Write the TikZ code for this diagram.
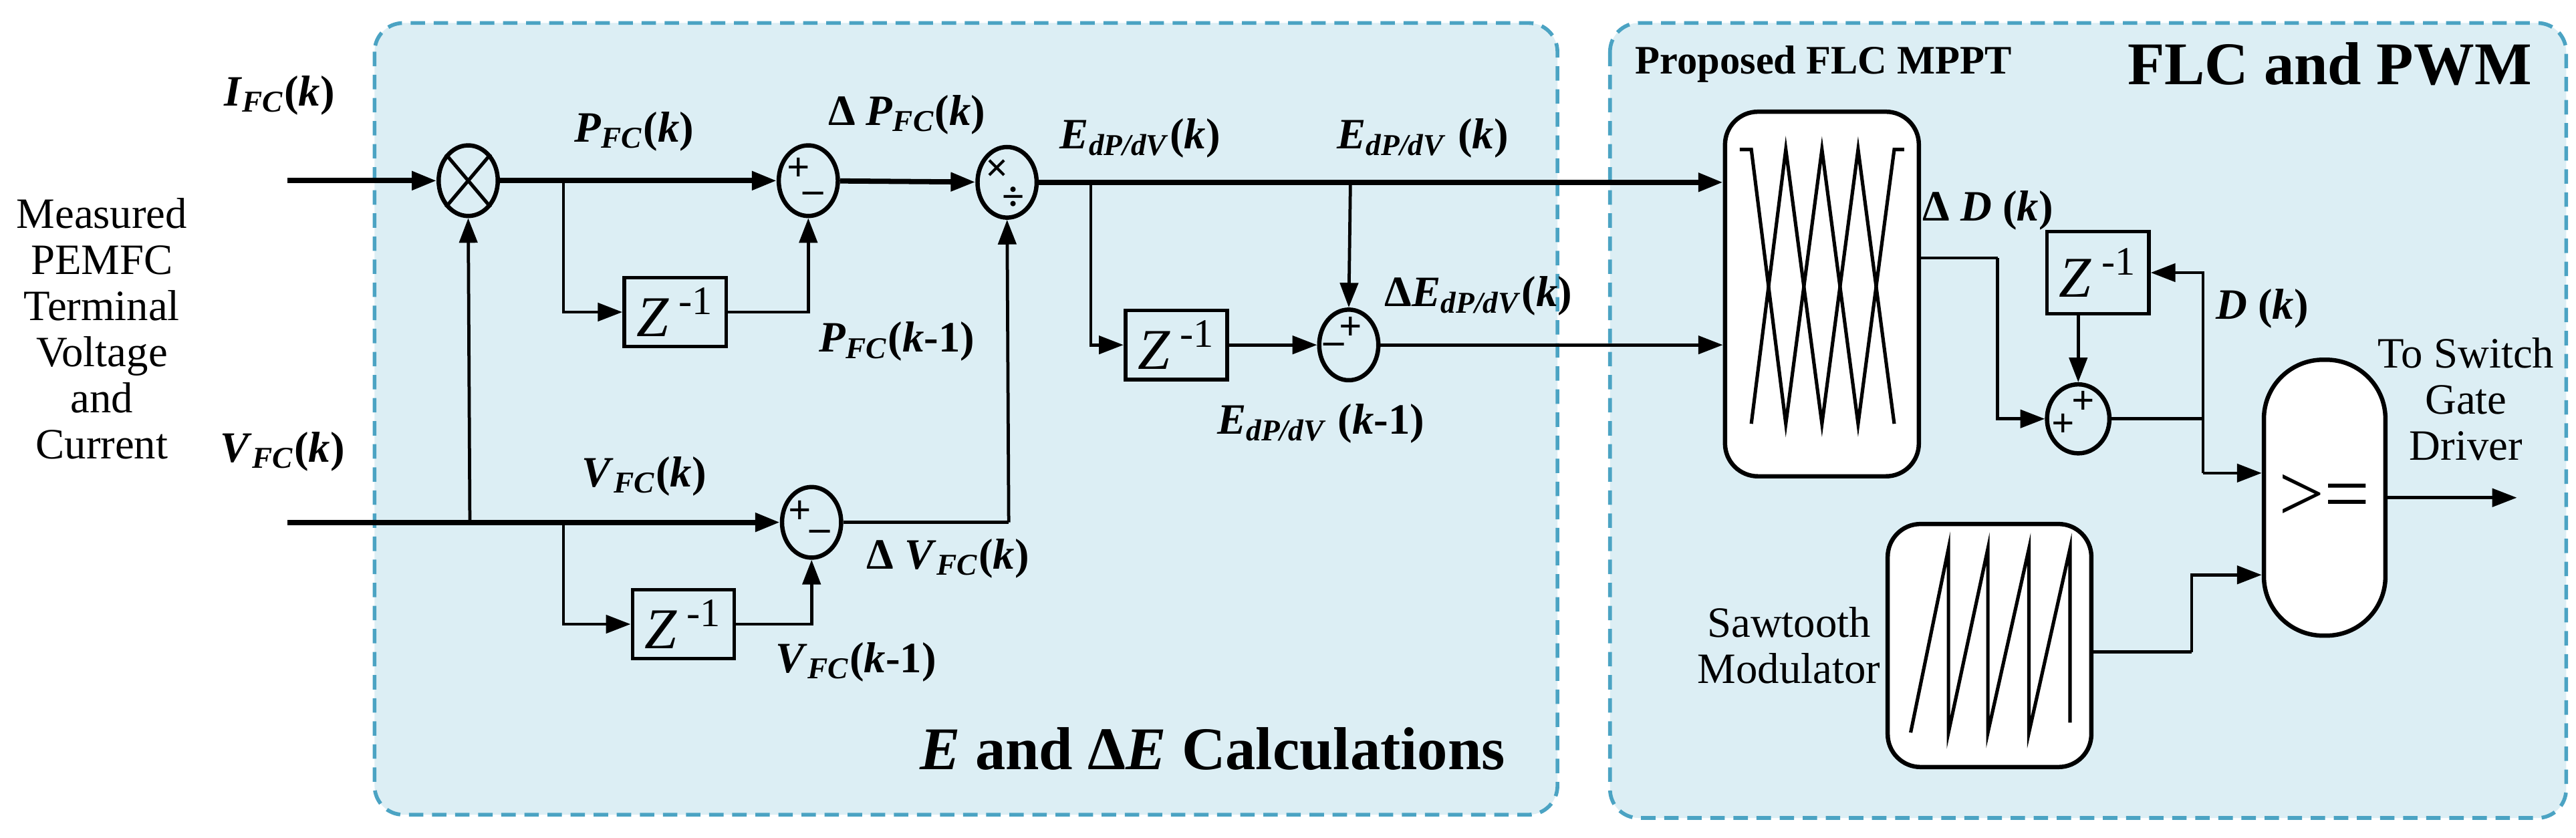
\documentclass[tikz,border=0pt]{standalone}
\usepackage{fontspec}
\setmainfont{LiberationSerif}[Extension=.ttf,UprightFont=*-Regular,BoldFont=*-Bold,ItalicFont=*-Italic,BoldItalicFont=*-BoldItalic]
\usetikzlibrary{arrows.meta,shapes.geometric}
\definecolor{panel}{HTML}{DCEEF4}
\definecolor{frame}{HTML}{4BA3C3}
\newcommand{\lb}[3]{\textbf{\textit{#1}\textsubscript{\textit{#2}}(\textit{#3})}}
\newcommand{\zinv}{\textit{Z}\,\textsuperscript{-1}}
\begin{document}
\begin{tikzpicture}[x=0.02cm,y=-0.02cm,
  >={Triangle[length=0.3cm,width=0.22cm]},
  wire/.style={line width=1.1pt},
  bus/.style={line width=1.8pt},
  panelbox/.style={draw=frame,fill=panel,dashed,dash pattern=on 5pt off 3pt,line width=1.3pt,rounded corners=0.35cm},
  sumn/.style={draw,ellipse,line width=1.5pt,minimum width=0.72cm,minimum height=0.86cm,inner sep=0pt},
  zbox/.style={draw,line width=1.3pt,minimum width=1.24cm,minimum height=0.84cm,inner sep=0pt,font=\fontsize{20}{20}\selectfont},
  rbox/.style={draw,line width=1.5pt,fill=white,rounded corners=0.4cm,inner sep=0pt},
  lab/.style={font=\fontsize{15}{18}\selectfont,inner sep=1pt},
  sgn/.style={font=\bfseries\fontsize{14}{14}\selectfont,inner sep=0pt},
  txt/.style={font=\fontsize{15}{16}\selectfont,align=center}]
\useasboundingbox (0,0) rectangle (1568,510);
\fill[white] (0,0) rectangle (1568,510);
\draw[panelbox] (228,14) rectangle (948,496);
\draw[panelbox] (980,14) rectangle (1562,498);

% left text
\node[txt] (meas) at (62,200) {Measured\\PEMFC\\Terminal\\Voltage\\and\\Current};
\node[lab] (lI) at (170,58) {\lb{I}{FC}{k}};
\node[lab] (lV) at (172,275) {\lb{V}{FC}{k}};

% nodes
\node[sumn] (mult) at (285,110) {};
\draw[line width=1.2pt] (mult.north west) -- (mult.south east) (mult.north east) -- (mult.south west);
\node[sumn] (s1) at (492,110) {};
\node[sgn] at (486,103) {+}; \node[sgn] at (495,120) {–};
\node[sumn] (dv) at (613,111) {};
\node[sgn] at (607,104) {×}; \node[sgn] at (617,121) {÷};
\node[sumn] (s2) at (494,318) {};
\node[sgn] at (487,312) {+}; \node[sgn] at (499,326) {–};
\node[sumn] (s3) at (821,210) {};
\node[sgn] at (822,200) {+}; \node[sgn] at (812,212) {–};
\node[zbox] (z1) at (411,190) {\zinv};
\node[zbox] (z2) at (716,210) {\zinv};
\node[zbox] (z3) at (416,380) {\zinv};

\coordinate (inI) at (175,110);
\coordinate (inV) at (175,318);
\coordinate (bV) at (286,318);
\coordinate (bP) at (343,110);
\coordinate (bV2) at (343,318);
\coordinate (bE) at (664,110);
\coordinate (bE2) at (822,110);
\coordinate (sv) at (614,318);

% connectors left
\draw[bus,->] (inI) -- (mult);
\draw[bus,->] (mult) -- (s1);
\draw[bus,->] (s1) -- (dv);
\draw[wire,->] (bP) |- (z1.west);
\draw[wire,->] (z1.east) -| (s1.south);
\draw[bus] (inV) -- (bV);
\draw[wire,->] (bV) -- (mult.south);
\draw[bus,->] (bV) -- (s2.west);
\draw[wire,->] (bV2) |- (z3.west);
\draw[wire,->] (z3.east) -| (s2.south);
\draw[wire] (s2.east) -- (sv);
\draw[wire,->] (sv) -- (dv.south);
\draw[wire,->] (bE) |- (z2.west);
\draw[wire,->] (z2.east) -- (s3.west);
\draw[wire,->] (bE2) -- (s3.north);

% labels left
\node[lab] at (386,80) {\lb{P}{FC}{k}};
\node[lab] at (552,70) {\textbf{Δ }\lb{P}{FC}{k}};
\node[lab] at (694,84) {\lb{E}{dP/dV}{k}};
\node[lab] at (866,84) {\textbf{\textit{E}\textsubscript{\textit{dP/dV}} (\textit{k})}};
\node[lab] at (546,208) {\textbf{\textit{P}\textsubscript{\textit{FC}}(\textit{k}-1)}};
\node[lab] at (804,258) {\textbf{\textit{E}\textsubscript{\textit{dP/dV}} (\textit{k}-1)}};
\node[lab] at (900,180) {\textbf{Δ}\lb{E}{dP/dV}{k}};
\node[lab] at (392,290) {\lb{V}{FC}{k}};
\node[lab] at (577,340) {\textbf{Δ }\lb{V}{FC}{k}};
\node[lab] at (521,403) {\textbf{\textit{V}\textsubscript{\textit{FC}}(\textit{k}-1)}};
\node[font=\bfseries\fontsize{21}{24}\selectfont] at (738,456) {\textit{E} and Δ\textit{E} Calculations};

% right panel
\node[font=\bfseries\fontsize{14}{16}\selectfont] at (1110,39) {Proposed FLC MPPT};
\node[font=\bfseries\fontsize{21}{24}\selectfont] at (1418,39) {FLC and PWM};
\node[rbox,minimum width=2.36cm,minimum height=4.44cm] (flc) at (1109,179) {};
\draw[line width=1.2pt] (1059,91) -- (1066,91) -- (1087,258) -- (1109,91) -- (1131,258) -- (1153,91) -- (1159,91);
\draw[line width=1.2pt] (1066,258) -- (1087,91) -- (1109,258) -- (1131,91) -- (1153,258);
\draw[bus,->] (dv.east) -- (flc.west |- dv.east);
\draw[wire,->] (s3.east) -- (flc.west |- s3.east);

\node[sumn,minimum width=0.76cm,minimum height=0.84cm] (s4) at (1265,255) {};
\node[sgn] at (1268,245) {+}; \node[sgn] at (1256,259) {+};
\node[zbox,minimum height=1.0cm] (z4) at (1277,166) {\zinv};
\node[draw,line width=1.5pt,fill=white,minimum width=1.48cm,minimum height=3.36cm,rounded corners=0.72cm,inner sep=0pt,font=\fontsize{28}{28}\selectfont] (cmp) at (1415,303) {>=};
\node[rbox,minimum width=2.48cm,minimum height=2.96cm] (saw) at (1211,393) {};
\draw[line width=1.2pt] (1163,446) -- (1186,334) -- (1186,446) -- (1210,334) -- (1210,446) -- (1235,334) -- (1235,446) -- (1260,334) -- (1260,440);

\coordinate (a1) at (1216,157);
\coordinate (d1) at (1341,255);
\coordinate (d2) at (1341,288);
\coordinate (s5) at (1334,397);
\coordinate (s6) at (1334,350);
\coordinate (out) at (1532,303);
\draw[wire] (flc.east |- a1) -- (a1);
\draw[wire,->] (a1) |- (s4.west);
\draw[wire] (s4.east) -- (d1);
\draw[wire,->] (d1) |- (z4.east);
\draw[wire] (d1) -- (d2);
\draw[wire,->] (d2) -- (cmp.west |- d2);
\draw[wire,->] (z4.south -| s4.north) -- (s4.north);
\draw[wire] (saw.east |- s5) -- (s5);
\draw[wire,->] (s5) -- (s6) -- (cmp.west |- s6);
\draw[wire,->] (cmp.east) -- (out);

\node[lab] at (1210,128) {\textbf{Δ} \textbf{\textit{D}} \textbf{(\textit{k})}};
\node[lab] at (1377,188) {\textbf{\textit{D}} \textbf{(\textit{k})}};
\node[txt] at (1501,243) {To Switch\\Gate\\Driver};
\node[txt] at (1089,393) {Sawtooth\\Modulator};
\end{tikzpicture}
\end{document}
